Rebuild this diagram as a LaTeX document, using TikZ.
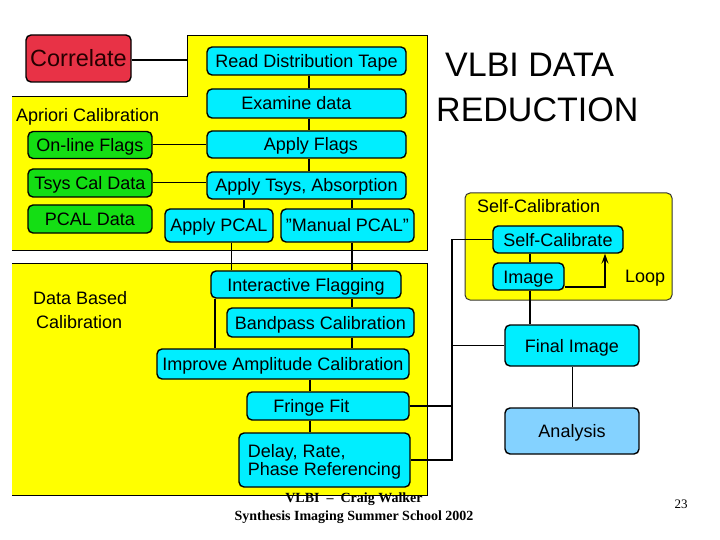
\documentclass[tikz,border=0pt]{standalone}
\usepackage{fontspec}
\setmainfont{Liberation Sans}
\newfontfamily\footfont{Liberation Serif}
\usetikzlibrary{arrows.meta}
\definecolor{ylw}{RGB}{255,255,0}
\definecolor{boxcyan}{RGB}{0,238,255}
\definecolor{boxgreen}{RGB}{20,222,20}
\definecolor{boxred}{RGB}{232,50,70}
\definecolor{boxblue}{RGB}{132,210,255}
\begin{document}
\begin{tikzpicture}[x=1pt,y=-1pt,
  box/.style={draw=black, line width=1.4pt, rounded corners=5pt, inner sep=0pt,
    font=\fontsize{18}{18}\selectfont, text=black, text height=13pt, text depth=0pt},
  cyanbox/.style={box, fill=boxcyan},
  greenbox/.style={box, fill=boxgreen},
  wh/.style 2 args={minimum width=#1pt, minimum height=#2pt},
  conn/.style={line width=1.8pt},
  thinconn/.style={line width=1pt},
  region/.style={line width=1pt},
  lbl/.style={font=\fontsize{18}{18}\selectfont, inner sep=0pt, anchor=base west},
]
\useasboundingbox (0,0) rectangle (720,540);

% ---- regions ----
\fill[ylw] (12,97) -- (187,97) -- (187,36) -- (427,36) -- (427,250) -- (12,250) -- cycle;
\draw[region] (12,97) -- (187,97) -- (187,36) -- (427,36) -- (427,250) -- (12,250);
\fill[ylw] (12,263) rectangle (427,495);
\draw[region] (12,263) -- (427,263) -- (427,495) -- (12,495);
\filldraw[fill=ylw, draw=black!80, line width=1pt, rounded corners=5pt] (465,193) rectangle (672,300);

% ---- titles and labels ----
\node[lbl, font=\fontsize{34}{34}\selectfont] (t1) at (445,77) {VLBI DATA};
\node[lbl, font=\fontsize{34}{34}\selectfont] (t2) at (436,122) {REDUCTION};
\node[lbl] (apr) at (16,122) {Apriori Calibration};
\node[lbl] (dbc1) at (33,304) {Data Based};
\node[lbl] (dbc2) at (36,328) {Calibration};
\node[lbl] (scl) at (477,213) {Self-Calibration};
\node[lbl] (loop) at (625,282) {Loop};

% ---- boxes ----
\node[box, fill=boxred, wh={105}{47}, font=\fontsize{23.5}{23.5}\selectfont, text height=17pt, text=black!85!red] (corr) at (78.5,58.5) {Correlate};
\node[cyanbox, wh={199}{28}] (rdt) at (306.5,61) {Read Distribution Tape};
\node[cyanbox, wh={199}{29}] (exam) at (306.5,103.5) {Examine data\hspace*{20pt}};
\node[cyanbox, wh={199}{27}] (aflags) at (306.5,144.5) {\hspace*{9pt}Apply Flags};
\node[cyanbox, wh={199}{27}] (atsys) at (306.5,185.5) {Apply Tsys, Absorption};
\node[cyanbox, wh={108}{33}] (apcal) at (219,225.5) {Apply PCAL};
\node[cyanbox, wh={133}{33}] (mpcal) at (347.5,225.5) {"Manual PCAL"};

\node[greenbox, wh={124}{27}] (online) at (90,145) {On-line Flags};
\node[greenbox, wh={124}{28}] (tsyscal) at (90,183) {Tsys Cal Data};
\node[greenbox, wh={124}{28}] (pcal) at (90,219) {PCAL Data};

\node[cyanbox, wh={190}{27}] (iflag) at (306,284.5) {Interactive Flagging};
\node[cyanbox, wh={187}{29}] (band) at (320.5,322.5) {Bandpass Calibration};
\node[cyanbox, wh={252}{30}] (impr) at (283,364) {Improve Amplitude Calibration};
\node[cyanbox, wh={162}{28}] (fringe) at (328,406) {Fringe Fit\hspace*{33pt}};
\node[cyanbox, wh={171}{54}, align=left, text height=31pt, text depth=0pt] (delay) at (324.5,460) {Delay, Rate,\\Phase Referencing};

\node[cyanbox, wh={130}{27}] (selfcal) at (558,239.5) {Self-Calibrate};
\node[cyanbox, wh={71}{27}] (image) at (528.5,276.5) {Image};
\node[cyanbox, wh={134}{41}] (final) at (572,345.5) {Final Image};
\node[box, fill=boxblue, wh={134}{46}] (anal) at (572,431) {Analysis};

% ---- connectors ----
\coordinate (ybord) at (187,60);
\coordinate (bus) at (452,0);
\coordinate (loopc) at (605,287);

\draw[conn] (ybord -| corr.east) -- (ybord);
\draw[conn] (rdt.south -| 309,0) -- (exam.north -| 309,0);
\draw[conn] (exam.south -| 309,0) -- (aflags.north -| 309,0);
\draw[conn] (aflags.south -| 309,0) -- (atsys.north -| 309,0);
\draw[thinconn] (online.east) -- (online.east -| aflags.west);
\draw[thinconn] (tsyscal.east) -- (tsyscal.east -| atsys.west);
\draw[conn] (atsys.south -| 244,0) -- (apcal.north -| 244,0);
\draw[conn] (atsys.south -| 352,0) -- (mpcal.north -| 352,0);
\draw[thinconn] (apcal.south -| 231,0) -- (iflag.north -| 231,0);
\draw[conn] (mpcal.south -| 352,0) -- (iflag.north -| 352,0);
\draw[conn] (iflag.south -| 352,0) -- (band.north -| 352,0);
\draw[conn] (band.south -| 352,0) -- (impr.north -| 352,0);
\draw[conn] (iflag.south -| 215,0) -- (impr.north -| 215,0);
\draw[conn] (impr.south -| 310,0) -- (fringe.north -| 310,0);
\draw[conn] (fringe.south -| 310,0) -- (delay.north -| 310,0);

\draw[conn] (selfcal.west) -| (delay.east -| bus) -- (delay.east);
\draw[conn] (fringe.east) -- (fringe.east -| bus);
\draw[conn] (final.west) -- (final.west -| bus);
\draw[conn] (selfcal.south -| 530,0) -- (image.north -| 530,0);
\draw[conn] (image.south -| 530,0) -- (final.north -| 530,0);
\draw[conn, -{Stealth[length=10pt,width=7pt,inset=4pt]}] (image.east |- loopc) -- (loopc) -- (selfcal.south -| loopc);
\draw[thinconn] (final.south) -- (anal.north);

% ---- footer ----
\node[inner sep=0pt, anchor=base, font=\footfont\bfseries\fontsize{14}{14}\selectfont] (f1) at (354,502) {VLBI \ – \ Craig Walker};
\node[inner sep=0pt, anchor=base, font=\footfont\bfseries\fontsize{14}{14}\selectfont] (f2) at (354,520) {Synthesis Imaging Summer School 2002};
\node[inner sep=0pt, anchor=base, font=\footfont\fontsize{13}{13}\selectfont] (f3) at (681,508) {23};
\end{tikzpicture}
\end{document}
